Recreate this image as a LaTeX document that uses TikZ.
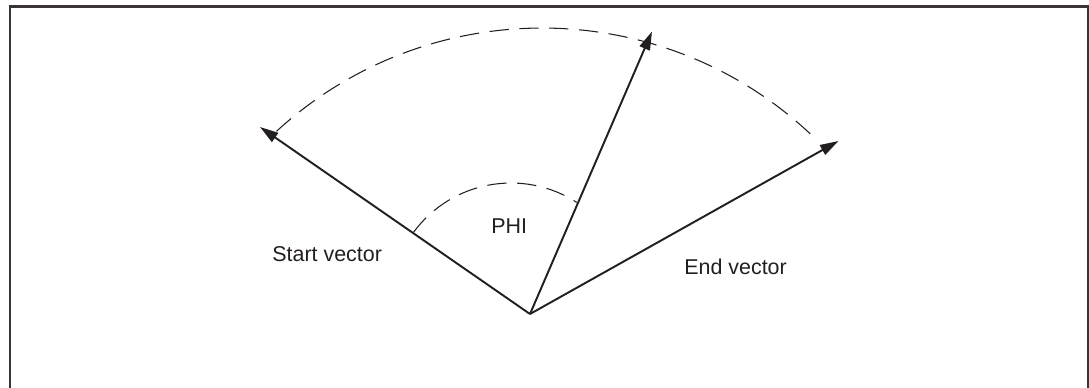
\documentclass[tikz,border=0pt]{standalone}
\usepackage{fontspec}
\setmainfont{Liberation Sans}
\usetikzlibrary{arrows.meta}
\definecolor{inkgrey}{HTML}{231F20}

\begin{document}
\begin{tikzpicture}[
  x=0.02cm, y=-0.02cm,
  font=\fontsize{12.2}{14}\selectfont,
  lbl/.style={anchor=base west, inner sep=0pt, text=inkgrey},
  vec/.style={-{Triangle[length=10.5pt, width=6.2pt]}, line width=1.1pt, draw=inkgrey},
  dashline/.style={line width=0.6pt, draw=inkgrey, dash pattern=on 11pt off 6pt},
  frame/.style={line width=1.4pt, draw=inkgrey!90}
]
\useasboundingbox (0,0) rectangle (1089,387);

% frame, open at the bottom
\draw[frame] (10,392) -- (10,6.5) -- (1088,6.5) -- (1088,392);

% vectors
\coordinate (O) at (530,314);
\coordinate (startTip) at (260,127);
\coordinate (midTip) at (652,31.5);
\coordinate (endTip) at (838.5,141);

\draw[vec] (O) -- (startTip);
\draw[vec] (O) -- (midTip);
\draw[vec] (O) -- (endTip);

% dashed arcs
\coordinate (bigC) at (542,421);
\coordinate (smallC) at (511,304);
\draw[dashline] (bigC) ++(-132.5:393) arc[start angle=-132.5, end angle=-46.4, radius=393];
\draw[dashline] (smallC) ++(-143.7:121) arc[start angle=-143.7, end angle=-57.1, radius=121];

% labels
\node[lbl] (startLbl) at (272,261) {Start vector};
\node[lbl] (phiLbl) at (491,233.3) {PHI};
\node[lbl] (endLbl) at (684,274.3) {End vector};

\end{tikzpicture}
\end{document}
